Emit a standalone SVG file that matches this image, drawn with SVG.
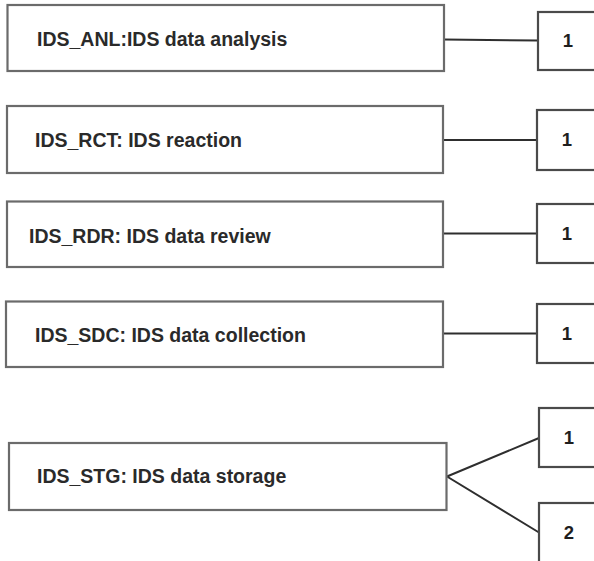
<svg xmlns="http://www.w3.org/2000/svg" width="594" height="561" viewBox="0 0 594 561">
  <style>
    .box { fill: #ffffff; stroke: #6b6b6b; stroke-width: 2.2; }
    .num { fill: #ffffff; stroke: #4a4a4a; stroke-width: 2.2; }
    .link { fill: none; stroke: #2e2e2e; stroke-width: 2; }
    .label { font-family: "Liberation Sans", Arial, sans-serif; font-weight: bold; font-size: 19.5px; fill: #2a2a2a; }
    .count { font-family: "Liberation Sans", Arial, sans-serif; font-weight: bold; font-size: 18.5px; fill: #1e1e1e; text-anchor: middle; }
  </style>
  <rect width="594" height="561" fill="#ffffff"/>

  <g id="connectors">
    <line class="link" x1="444" y1="39.5" x2="538" y2="40.5"/>
    <line class="link" x1="443" y1="140" x2="537" y2="140"/>
    <line class="link" x1="443" y1="233.5" x2="537" y2="233.5"/>
    <line class="link" x1="443" y1="333.5" x2="537" y2="333.5"/>
    <polyline class="link" points="539,438 447,476.5 539,532.5"/>
  </g>

  <g id="ids-anl">
    <rect class="box" x="7.5" y="5" width="436.5" height="66"/>
    <text class="label" x="37" y="45.5">IDS_ANL:IDS data analysis</text>
  </g>
  <g id="ids-anl-1">
    <rect class="num" x="538" y="12" width="70" height="58"/>
    <text class="count" x="568" y="47">1</text>
  </g>

  <g id="ids-rct">
    <rect class="box" x="7" y="106" width="436" height="67"/>
    <text class="label" x="35" y="147">IDS_RCT: IDS reaction</text>
  </g>
  <g id="ids-rct-1">
    <rect class="num" x="537" y="110" width="70" height="60"/>
    <text class="count" x="567" y="146">1</text>
  </g>

  <g id="ids-rdr">
    <rect class="box" x="7" y="201.5" width="436" height="65.5"/>
    <text class="label" x="29" y="242.5">IDS_RDR: IDS data review</text>
  </g>
  <g id="ids-rdr-1">
    <rect class="num" x="537" y="204" width="70" height="59"/>
    <text class="count" x="567" y="240">1</text>
  </g>

  <g id="ids-sdc">
    <rect class="box" x="6" y="301.5" width="437" height="65.5"/>
    <text class="label" x="35" y="342">IDS_SDC: IDS data collection</text>
  </g>
  <g id="ids-sdc-1">
    <rect class="num" x="537" y="304" width="70" height="59"/>
    <text class="count" x="567" y="340">1</text>
  </g>

  <g id="ids-stg">
    <rect class="box" x="9" y="443" width="437.5" height="67"/>
    <text class="label" x="37" y="483">IDS_STG: IDS data storage</text>
  </g>
  <g id="ids-stg-1">
    <rect class="num" x="539" y="408" width="70" height="59"/>
    <text class="count" x="569" y="444">1</text>
  </g>
  <g id="ids-stg-2">
    <rect class="num" x="539" y="503" width="70" height="70"/>
    <text class="count" x="569" y="539">2</text>
  </g>
</svg>
